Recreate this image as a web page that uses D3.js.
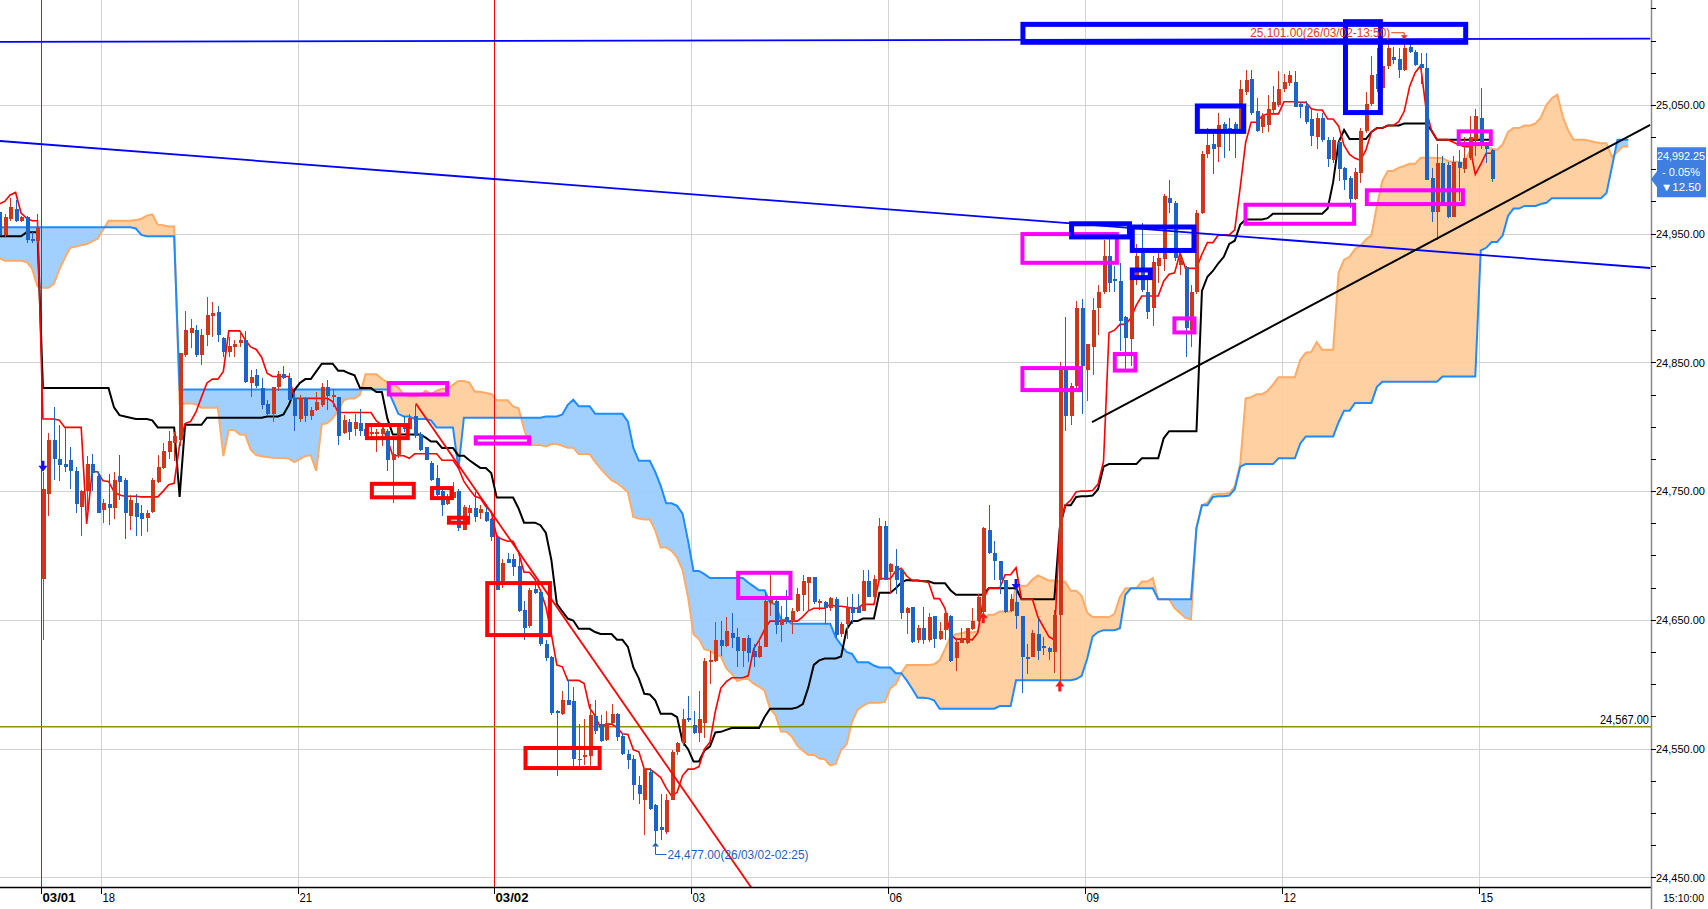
<!DOCTYPE html>
<html><head><meta charset="utf-8">
<script src="https://cdn.jsdelivr.net/npm/d3@7"></script>
<style>html,body{margin:0;padding:0;background:#fff;overflow:hidden}svg{display:block}</style>
</head><body><svg id="chart" width="1708" height="909"></svg>
<script>
// ---------------- DATA (5-minute candles, index 0..273) ----------------
const opens = [
24967,24949,24961,24969,24960,24963,24946,24944,24682,24748,
24790,24775,24771,24774,24766,24738,24750,24771,24762,24735,
24740,24737,24762,24759,24731,24741,24733,24729,24734,24757,
24768,24780,24787,24790,24856,24873,24875,24856,24871,24886,
24889,24869,24858,24862,24865,24867,24834,24840,24830,24818,
24810,24831,24841,24838,24822,24806,24822,24808,24813,24817,
24831,24823,24823,24795,24804,24798,24803,24798,24794,24794,
24794,24797,24774,24777,24801,24798,24808,24794,24784,24772,
24760,24750,24740,24745,24750,24720,24733,24737,24733,24734,
24728,24714,24680,24697,24697,24692,24658,24645,24674,24672,
24631,24621,24579,24577,24588,24587,24541,24544,24544,24575,
24569,24557,24570,24577,24560,24546,24542,24522,24510,24532,
24506,24489,24485,24510,24547,24554,24574,24568,24562,24570,
24617,24618,24634,24630,24640,24637,24626,24636,24626,24621,
24629,24663,24665,24646,24652,24648,24657,24669,24679,24683,
24663,24664,24659,24666,24639,24647,24660,24660,24657,24680,
24668,24681,24723,24687,24692,24689,24655,24660,24634,24644,
24634,24653,24635,24642,24653,24620,24632,24632,24643,24649,
24656,24720,24702,24696,24681,24657,24664,24653,24621,24621,
24639,24630,24628,24625,24654,24844,24808,24832,24892,24844,
24862,24892,24905,24933,24915,24913,24885,24868,24917,24935,
24905,24892,24925,24930,24978,24974,24926,24924,24875,24905,
24966,25012,25020,25017,25035,25032,25035,25031,25060,25070,
25045,25033,25034,25046,25050,25062,25067,25068,25051,25049,
25039,25025,25040,25023,25007,25021,25001,24993,24977,24997,
25030,25051,25074,25063,25080,25087,25086,25077,25095,25091,
25082,25079,24993,24967,25005,25003,24963,25006,25000,25009,
25023,25040,25019,25015];
const highs = [
24970,24965,24978,24976,24964,24964,24951,24965,24765,24795,
24815,24801,24800,24784,24769,24751,24777,24779,24765,24744,
24763,24765,24778,24760,24747,24748,24739,24735,24760,24778,
24787,24797,24796,24857,24890,24884,24879,24876,24901,24897,
24894,24870,24870,24867,24874,24874,24844,24845,24838,24821,
24831,24843,24847,24842,24826,24825,24823,24815,24827,24834,
24836,24829,24823,24809,24806,24810,24814,24800,24800,24798,
24802,24798,24790,24803,24808,24810,24817,24796,24784,24773,
24770,24751,24748,24757,24752,24739,24739,24749,24739,24740,
24729,24716,24697,24702,24701,24698,24665,24675,24677,24672,
24634,24622,24580,24595,24603,24598,24569,24573,24585,24588,
24576,24579,24585,24578,24562,24549,24545,24529,24535,24535,
24507,24515,24515,24549,24555,24581,24591,24579,24595,24620,
24626,24648,24649,24652,24655,24644,24636,24638,24631,24634,
24672,24685,24668,24661,24673,24659,24675,24685,24683,24683,
24666,24665,24668,24668,24648,24668,24670,24670,24689,24689,
24685,24729,24727,24694,24705,24690,24660,24660,24646,24660,
24655,24653,24648,24659,24654,24636,24644,24644,24659,24670,
24722,24739,24711,24696,24681,24670,24676,24653,24631,24642,
24651,24637,24629,24658,24850,24885,24834,24898,24899,24864,
24900,24910,24945,24949,24925,24927,24886,24919,24942,24958,
24914,24933,24938,24981,24992,24975,24933,24925,24910,24968,
25014,25032,25030,25044,25037,25040,25037,25069,25077,25077,
25055,25044,25058,25065,25076,25074,25076,25076,25052,25053,
25047,25044,25044,25025,25025,25023,25002,24995,25001,25032,
25060,25088,25094,25085,25098,25095,25094,25101,25097,25093,
25090,25090,25001,25020,25010,25006,25010,25015,25025,25041,
25047,25063,25021,25016];
const lows = [
24946,24947,24960,24959,24959,24943,24943,24942,24634,24731,
24759,24758,24765,24752,24733,24715,24735,24750,24733,24725,
24724,24728,24743,24713,24720,24715,24715,24718,24733,24756,
24767,24775,24773,24785,24854,24861,24854,24848,24863,24870,
24866,24854,24854,24854,24862,24834,24823,24830,24814,24809,
24804,24828,24837,24821,24797,24804,24804,24805,24812,24815,
24813,24815,24786,24794,24790,24793,24793,24790,24790,24780,
24785,24766,24741,24776,24796,24798,24791,24781,24774,24758,
24746,24731,24739,24743,24719,24720,24728,24726,24728,24726,
24711,24673,24675,24694,24684,24656,24634,24644,24670,24630,
24618,24576,24529,24576,24584,24535,24535,24537,24535,24561,
24555,24556,24569,24556,24545,24534,24510,24507,24483,24502,
24477,24479,24484,24510,24545,24552,24571,24561,24555,24558,
24600,24617,24622,24629,24628,24613,24613,24617,24613,24620,
24629,24653,24639,24633,24647,24639,24656,24657,24657,24662,
24658,24647,24657,24636,24637,24635,24647,24655,24657,24668,
24667,24681,24681,24670,24670,24651,24639,24632,24632,24631,
24633,24628,24634,24634,24617,24610,24632,24631,24642,24648,
24655,24701,24681,24670,24655,24656,24643,24593,24608,24621,
24619,24623,24619,24609,24601,24797,24801,24829,24810,24820,
24840,24871,24903,24905,24905,24859,24845,24847,24910,24905,
24884,24878,24912,24921,24966,24929,24918,24854,24862,24903,
24965,25009,24996,25006,25009,25014,25009,25030,25058,25042,
25029,25028,25029,25042,25048,25060,25065,25048,25040,25035,
25018,25016,25021,25002,25005,24991,24984,24970,24976,24989,
25028,25049,25060,25060,25078,25082,25071,25076,25090,25080,
25066,24992,24959,24945,24974,24962,24963,24975,24997,25007,
25010,25016,25005,24990];
const closes = [
24949,24963,24971,24960,24963,24945,24944,24954,24752,24790,
24775,24770,24769,24766,24740,24750,24771,24764,24733,24741,
24737,24759,24757,24733,24743,24730,24728,24733,24759,24769,
24781,24789,24793,24857,24875,24877,24856,24871,24887,24888,
24871,24858,24863,24864,24867,24835,24839,24832,24817,24810,
24831,24841,24838,24821,24808,24822,24808,24813,24819,24831,
24824,24825,24793,24805,24796,24804,24797,24793,24796,24796,
24798,24774,24779,24801,24798,24807,24793,24782,24774,24759,
24747,24739,24745,24749,24721,24738,24737,24730,24736,24727,
24714,24673,24694,24694,24691,24657,24644,24673,24671,24631,
24620,24578,24578,24588,24584,24542,24542,24545,24576,24564,
24556,24570,24577,24559,24546,24541,24522,24515,24534,24503,
24486,24487,24510,24547,24554,24573,24572,24562,24573,24618,
24619,24634,24630,24641,24636,24626,24636,24624,24621,24630,
24665,24668,24646,24649,24648,24657,24670,24680,24683,24664,
24665,24659,24667,24638,24647,24660,24655,24655,24680,24668,
24682,24723,24681,24693,24681,24655,24659,24633,24644,24634,
24652,24635,24641,24655,24618,24633,24636,24644,24649,24668,
24721,24702,24696,24681,24656,24666,24653,24621,24620,24640,
24626,24628,24625,24654,24845,24808,24832,24892,24847,24864,
24891,24905,24933,24912,24913,24882,24869,24918,24933,24906,
24889,24928,24931,24979,24974,24931,24931,24877,24905,24966,
25012,25019,25016,25034,25028,25030,25029,25062,25069,25044,
25030,25041,25047,25052,25062,25068,25073,25048,25048,25037,
25026,25040,25023,25008,25023,25000,24992,24977,24998,25030,
25051,25073,25062,25080,25094,25085,25077,25094,25091,25081,
25079,24992,24967,25005,24974,24963,25006,25001,25009,25025,
25041,25018,25016,24992.25];

// Ichimoku values before enough history is on screen
const tenkanEarly = [24973,24975,24980,24982,24966,24962,24960,24960];
const kijunEarly = [24948,24948,24948,24948,24948,24951,24951,24951,
  24830,24830,24830,24830,24830,24830,24830,24830,24830,24830,24830,24830,24830,
  24815,24809,24808,24807];
const spanAEarly = [24931,24929,24929,24929,24929,24928,24923,24909,24908,24908,
  24911,24922,24931,24939,24940,24941,24942,24944,24946,24953,
  24960,24960,24960,24960,24960];
const spanBEarly = [24955,24955,24955,24955,24955,24955,24955,24955,24955,24955,
  24955,24955,24955,24955,24955,24955,24955,24955,24955,24955,
  24955,24955,24955,24955,24955,24954,24949,24948,24948,24948,
  24948,24948,24948,24829,24829,24829,24829,24829,24829,24829,
  24829,24829,24829,24829,24829,24829,24829,24829,24829,24829,
  24829,24829,24829,24829,24829,24829,24829,24829,24829,24829,
  24829,24829,24829,24829,24829,24829,24829,24829,24829,24829,
  24829,24829,24820,24810,24808,24808];

// time axis
const tickIndex  = [8, 19, 55, 91, 127, 163, 199, 235, 271];
const tickLabels = ["03/01","18","21","03/02","03","06","09","12","15"];
const dateTicks  = [true,false,false,true,false,false,false,false,false];
const lastTimeLabel = "15:10:00";

// price axis
const priceLabels = [24450,24550,24650,24750,24850,24950,25050];
const priceMinorTicks = d3.range(24450, 25126, 25);

// drawn objects [index0, price0, index1, price1]
const blueTrendLines = [[0,25099,302,25101.5],[0,25022,302,24923.3]];
const blackTrendLines = [[199.9,24803.5,302,25034.4]];
const redTrendLines = [[76.2,24818,137.6,24441.8]];
const supportLevel = 24567;
// boxes [index0, index1, priceTop, priceBottom]
const blueBoxes = [[186.8,268.7,25114.5,25096.7],[245.8,253.1,25116.6,25042.1],[218.7,228.1,25051.1,25027.5],
  [195.7,207.2,24959.6,24945.5],[206.8,219.0,24957.1,24935.0],[206.8,211.0,24923.7,24913.9]];
const redBoxes = [[66.9,75.1,24802.9,24789.6],[67.8,76.2,24757.2,24743.6],[78.8,83.1,24753.9,24743.0],
  [81.9,86.1,24730.9,24723.9],[88.9,101.1,24680.1,24636.6],[95.9,110.2,24552.0,24533.3]];
const magentaBoxes = [[70.9,82.3,24835.5,24823.5],[86.8,97.3,24793.3,24785.4],[134.8,145.1,24688.1,24665.4],
  [186.8,204.8,24951.2,24925.8],[186.8,198.1,24847.1,24826.9],[203.7,208.2,24858.0,24842.1],
  [214.6,219.0,24885.7,24871.7],[227.6,248.2,24974.0,24956.1],[249.8,268.1,24985.2,24971.4],
  [266.6,273.2,25031.0,25018.0]];
// signal arrows [index, price, direction]
const signals = [[8,24769,"down"],[180,24652,"up"],[186,24677,"down"],[194,24599,"up"]];
const highTime = "26/03/02-13:50";
const lowTime = "26/03/02-02:25";
const priceChange = -12.50;
const priceChangePct = -0.05;

// ---------------- CHART ----------------
const W = 1708, H = 909, plotR = 1651, plotB = 887;
const svg = d3.select("#chart");
const x = d3.scaleLinear().domain([0, 302]).range([-0.8, -0.8 + 5.467 * 302]);
const y = d3.scaleLinear().domain([24450, 25050]).range([877.3, 104.9]);
const N = opens.length;
const FONT = "'Liberation Sans', Arial, sans-serif";
const fmt = d3.format(",.2f");

function midHL(a, b) {
  let mx = -Infinity, mn = Infinity;
  for (let k = Math.max(0, a); k <= b; k++) { mx = Math.max(mx, highs[k]); mn = Math.min(mn, lows[k]); }
  return (mx + mn) / 2;
}
const tenkan = d3.range(N).map(i => i < 8 ? tenkanEarly[i] : midHL(i - 8, i));
const kijun = d3.range(N).map(i => i < 25 ? kijunEarly[i] : midHL(i - 25, i));
const spanA = d3.range(N + 25).map(j => j < 25 ? spanAEarly[j] : (tenkan[j - 25] + kijun[j - 25]) / 2);
const spanB = d3.range(N + 25).map(j => j < 76 ? spanBEarly[j] : midHL(j - 76, j - 25));

const defs = svg.append("defs");
defs.append("clipPath").attr("id", "plot").append("rect").attr("x", 0).attr("y", 0).attr("width", plotR).attr("height", plotB);
const cloud = d3.range(N + 25).map(j => ({ j, a: spanA[j], b: spanB[j] }));
defs.append("clipPath").attr("id", "aboveB").append("path")
  .attr("d", d3.area().x(d => x(d.j)).y0(-10).y1(d => y(d.b))(cloud));
defs.append("clipPath").attr("id", "aboveA").append("path")
  .attr("d", d3.area().x(d => x(d.j)).y0(-10).y1(d => y(d.a))(cloud));

const g = svg.append("g").attr("clip-path", "url(#plot)");
const tickX = i => Math.round(x(i) - 2.2) + 0.5;

// grid
g.append("g").selectAll("line").data(priceLabels).join("line")
  .attr("x1", 0).attr("x2", plotR).attr("y1", d => Math.round(y(d)) + 0.5).attr("y2", d => Math.round(y(d)) + 0.5)
  .attr("stroke", "#d3d3d3").attr("stroke-width", 1);
g.append("g").selectAll("line").data(tickIndex.filter((d, k) => !dateTicks[k])).join("line")
  .attr("x1", tickX).attr("x2", tickX).attr("y1", 0).attr("y2", plotB)
  .attr("stroke", "#d3d3d3").attr("stroke-width", 1);

// cloud fill
const between = d3.area().x(d => x(d.j)).y0(d => y(d.a)).y1(d => y(d.b));
g.append("path").attr("d", between(cloud)).attr("fill", "#ffcc99").attr("fill-opacity", 0.92).attr("clip-path", "url(#aboveB)");
g.append("path").attr("d", between(cloud)).attr("fill", "#99ccff").attr("fill-opacity", 0.92).attr("clip-path", "url(#aboveA)");

const lineIdx = d3.line().x((d, i) => x(i)).y(d => y(d));
g.append("path").attr("d", lineIdx(spanA)).attr("fill", "none").attr("stroke", "#ffaa66").attr("stroke-width", 2);
g.append("path").attr("d", lineIdx(spanB)).attr("fill", "none").attr("stroke", "#1e8cff").attr("stroke-width", 2);

// date separators
g.append("g").selectAll("line").data(tickIndex.filter((d, k) => dateTicks[k])).join("line")
  .attr("x1", tickX).attr("x2", tickX).attr("y1", 0).attr("y2", plotB)
  .attr("stroke", "#ff0000").attr("stroke-width", 1);

// support level
g.append("line").attr("x1", 0).attr("x2", plotR).attr("y1", y(supportLevel)).attr("y2", y(supportLevel))
  .attr("stroke", "#8f8f00").attr("stroke-width", 1.5);

// kijun / tenkan
g.append("path").attr("d", lineIdx(kijun)).attr("fill", "none").attr("stroke", "#000").attr("stroke-width", 2);
g.append("path").attr("d", lineIdx(tenkan)).attr("fill", "none").attr("stroke", "#ff0000").attr("stroke-width", 1.6);

// candles
const UP = "#d2361a", DOWN = "#1e64c8";
const candles = d3.range(N).map(i => ({ i, o: opens[i], h: highs[i], l: lows[i], c: closes[i] }));
const cg = g.append("g").attr("shape-rendering", "crispEdges");
cg.selectAll("line").data(candles).join("line")
  .attr("x1", d => Math.round(x(d.i)) + 0.5).attr("x2", d => Math.round(x(d.i)) + 0.5)
  .attr("y1", d => y(d.h)).attr("y2", d => y(d.l))
  .attr("stroke", d => d.c >= d.o ? UP : DOWN).attr("stroke-width", 1);
cg.selectAll("rect").data(candles).join("rect")
  .attr("x", d => Math.round(x(d.i)) - 1.5).attr("width", 4)
  .attr("y", d => y(Math.max(d.o, d.c)))
  .attr("height", d => Math.max(1.5, Math.abs(y(d.o) - y(d.c))))
  .attr("fill", d => d.c >= d.o ? UP : DOWN);

// trend lines
function tl(arr, color, w) {
  g.append("g").selectAll("line").data(arr).join("line")
    .attr("x1", d => x(d[0])).attr("y1", d => y(d[1])).attr("x2", d => x(d[2])).attr("y2", d => y(d[3]))
    .attr("stroke", color).attr("stroke-width", w);
}
tl(blueTrendLines, "#0000ff", 1.8);
tl(blackTrendLines, "#000000", 2);
tl(redTrendLines, "#ff0000", 1.8);

// boxes
function boxes(arr, color, w) {
  g.append("g").selectAll("rect").data(arr).join("rect")
    .attr("x", d => x(d[0]) + w / 2).attr("y", d => y(d[2]) + w / 2)
    .attr("width", d => x(d[1]) - x(d[0]) - w).attr("height", d => y(d[3]) - y(d[2]) - w)
    .attr("fill", "none").attr("stroke", color).attr("stroke-width", w);
}
boxes(magentaBoxes, "#ff00ff", 4);
boxes(redBoxes, "#ff0000", 4);
boxes(blueBoxes, "#0000ff", 5);

// signal arrows
g.append("g").selectAll("path").data(signals).join("path")
  .attr("transform", d => `translate(${x(d[0])},${y(d[1])})`)
  .attr("d", d => d[2] === "down"
    ? "M-1.5,-6 L1.5,-6 L1.5,-1 L4.5,-1 L0,5 L-4.5,-1 L-1.5,-1 Z"
    : "M-1.5,6 L1.5,6 L1.5,1 L4.5,1 L0,-5 L-4.5,1 L-1.5,1 Z")
  .attr("fill", d => d[2] === "down" ? "#1010ff" : "#ff1a1a");

// high annotation
const hiIdx = d3.maxIndex(highs), hiVal = highs[hiIdx];
const hx = x(hiIdx), hy = y(hiVal);
g.append("path").attr("d", `M${hx - 13},${hy - 6.5} L${hx},${hy - 6.5} L${hx},${hy - 2}`).attr("fill", "none").attr("stroke", "#e03a22").attr("stroke-width", 1);
g.append("path").attr("d", `M${hx - 3.5},${hy - 4} L${hx + 3.5},${hy - 4} L${hx},${hy} Z`).attr("fill", "#e03a22");
g.append("text").attr("x", hx - 14).attr("y", hy - 2.5).attr("text-anchor", "end")
  .attr("font-family", FONT).attr("font-size", 12).attr("fill", "#e03a22")
  .attr("textLength", 140).attr("lengthAdjust", "spacingAndGlyphs")
  .text(`${fmt(hiVal)}(${highTime})`);

// low annotation
const loIdx = d3.minIndex(lows), loVal = lows[loIdx];
const lx = Math.round(x(loIdx)) + 0.5, ly = y(loVal);
g.append("path").attr("d", `M${lx - 3.5},${ly + 4} L${lx + 3.5},${ly + 4} L${lx},${ly} Z`).attr("fill", "#1f5fc0");
g.append("path").attr("d", `M${lx},${ly + 4} L${lx},${ly + 12} L${lx + 11},${ly + 12}`).attr("fill", "none").attr("stroke", "#1f5fc0").attr("stroke-width", 1);
g.append("text").attr("x", lx + 12).attr("y", ly + 16)
  .attr("font-family", FONT).attr("font-size", 12).attr("fill", "#1f5fc0")
  .attr("textLength", 141).attr("lengthAdjust", "spacingAndGlyphs")
  .text(`${fmt(loVal)}(${lowTime})`);

// support label
svg.append("text").attr("x", plotR - 2).attr("y", y(supportLevel) - 3).attr("text-anchor", "end")
  .attr("font-family", FONT).attr("font-size", 13).attr("fill", "#000")
  .attr("textLength", 49).attr("lengthAdjust", "spacingAndGlyphs").text(fmt(supportLevel));

// ---------------- AXES ----------------
svg.append("line").attr("x1", 0).attr("x2", plotR).attr("y1", plotB + 0.5).attr("y2", plotB + 0.5).attr("stroke", "#000").attr("stroke-width", 1.5);
svg.append("line").attr("x1", plotR + 0.5).attr("x2", plotR + 0.5).attr("y1", 0).attr("y2", H).attr("stroke", "#8a8a8a").attr("stroke-width", 1.5);

svg.append("g").selectAll("line").data(priceMinorTicks).join("line")
  .attr("x1", plotR).attr("x2", plotR + 5).attr("y1", d => Math.round(y(d)) + 0.5).attr("y2", d => Math.round(y(d)) + 0.5)
  .attr("stroke", "#000").attr("stroke-width", 1);
svg.append("g").selectAll("text").data(priceLabels).join("text")
  .attr("x", plotR + 5).attr("y", d => y(d) + 4.2)
  .attr("font-family", FONT).attr("font-size", 11.4).attr("fill", "#000")
  .attr("textLength", 49).attr("lengthAdjust", "spacingAndGlyphs").text(d => fmt(d));

svg.append("g").selectAll("line").data(tickIndex).join("line")
  .attr("x1", tickX).attr("x2", tickX).attr("y1", plotB).attr("y2", plotB + 7)
  .attr("stroke", "#000").attr("stroke-width", 1);
svg.append("g").selectAll("text").data(tickIndex).join("text")
  .attr("x", d => tickX(d) + 1).attr("y", 902)
  .attr("font-family", FONT).attr("font-size", 13).attr("fill", "#000")
  .attr("font-weight", (d, k) => dateTicks[k] ? "bold" : "normal")
  .attr("textLength", (d, k) => dateTicks[k] ? 33 : 12.6).attr("lengthAdjust", "spacingAndGlyphs")
  .text((d, k) => tickLabels[k]);
svg.append("text").attr("x", 1663).attr("y", 902)
  .attr("font-family", FONT).attr("font-size", 11).attr("fill", "#000")
  .attr("textLength", 41).attr("lengthAdjust", "spacingAndGlyphs").text(lastTimeLabel);

// last price tag
const last = closes[N - 1], py = y(last);
svg.append("path")
  .attr("d", `M${plotR},${py} L${plotR + 6},${py - 8} L${plotR + 6},${py - 32} L1706,${py - 32} L1706,${py + 18} L${plotR + 6},${py + 18} L${plotR + 6},${py + 8} Z`)
  .attr("fill", "#3f7fe0");
const tagX = 1681;
const tagLines = [fmt(last), `- ${Math.abs(priceChangePct).toFixed(2)}%`, `\u25BC${Math.abs(priceChange).toFixed(2)}`];
svg.append("g").selectAll("text").data(tagLines).join("text")
  .attr("x", tagX).attr("y", (d, k) => py - 19 + k * 15.5).attr("text-anchor", "middle")
  .attr("font-family", FONT).attr("font-size", 11).attr("fill", "#fff")
  .attr("textLength", (d, k) => [48, 38, 40][k]).attr("lengthAdjust", "spacingAndGlyphs")
  .text(d => d);
</script></body></html>
